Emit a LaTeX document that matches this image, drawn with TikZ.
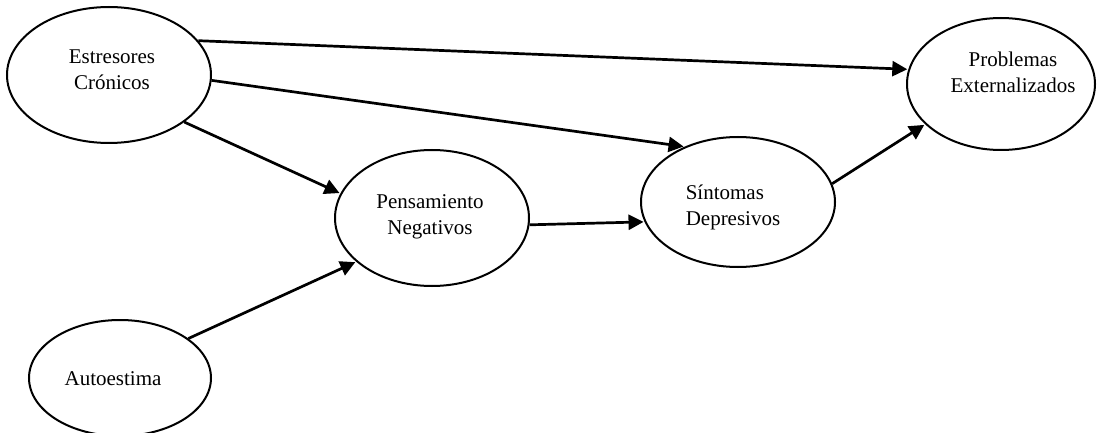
\documentclass[tikz,border=0pt]{standalone}
\usepackage{fontspec}
\setmainfont{Liberation Serif}
\usetikzlibrary{shapes.geometric,arrows.meta}
\tikzset{
  var/.style={draw, ellipse, line width=2pt, inner sep=0pt},
  lbl/.style={font=\fontsize{21}{26}\selectfont, align=center, inner sep=0pt},
  path/.style={line width=2.7pt, -{Triangle[length=15pt,width=15pt]}, shorten >=1pt}
}
\begin{document}
\begin{tikzpicture}[x=1pt,y=-1pt]
  \useasboundingbox (0,0) rectangle (1098,433);
  % variables
  \node[var, minimum width=204pt, minimum height=136pt] (est) at (109,75) {};
  \node[var, minimum width=188pt, minimum height=132pt] (pro) at (1001,84) {};
  \node[var, minimum width=194pt, minimum height=130pt] (sin) at (738,202) {};
  \node[var, minimum width=194pt, minimum height=136pt] (pen) at (432,218) {};
  \node[var, minimum width=182pt, minimum height=116pt] (aut) at (120,378) {};
  % labels
  \node[lbl] (estT) at (112,70) {Estresores\\Crónicos};
  \node[lbl] (proT) at (1013,72) {Problemas\\Externalizados};
  \node[lbl, align=left] (sinT) at (733,207) {Síntomas\\Depresivos};
  \node[lbl] (penT) at (430,217) {Pensamiento\\Negativos};
  \node[lbl] (autT) at (113,379) {Autoestima};
  % paths
  \draw[path] (est.21) -- (pro.171.5);
  \draw[path] (est.-3) -- (sin.134);
  \draw[path] (est.-32.4) -- (pen.165.5);
  \draw[path] (aut.30.5) -- (pen.-150.3);
  \draw[path] (pen.-4.7) -- (sin.192.9);
  \draw[path] (sin.11.3) -- (pro.208.8);
\end{tikzpicture}
\end{document}
